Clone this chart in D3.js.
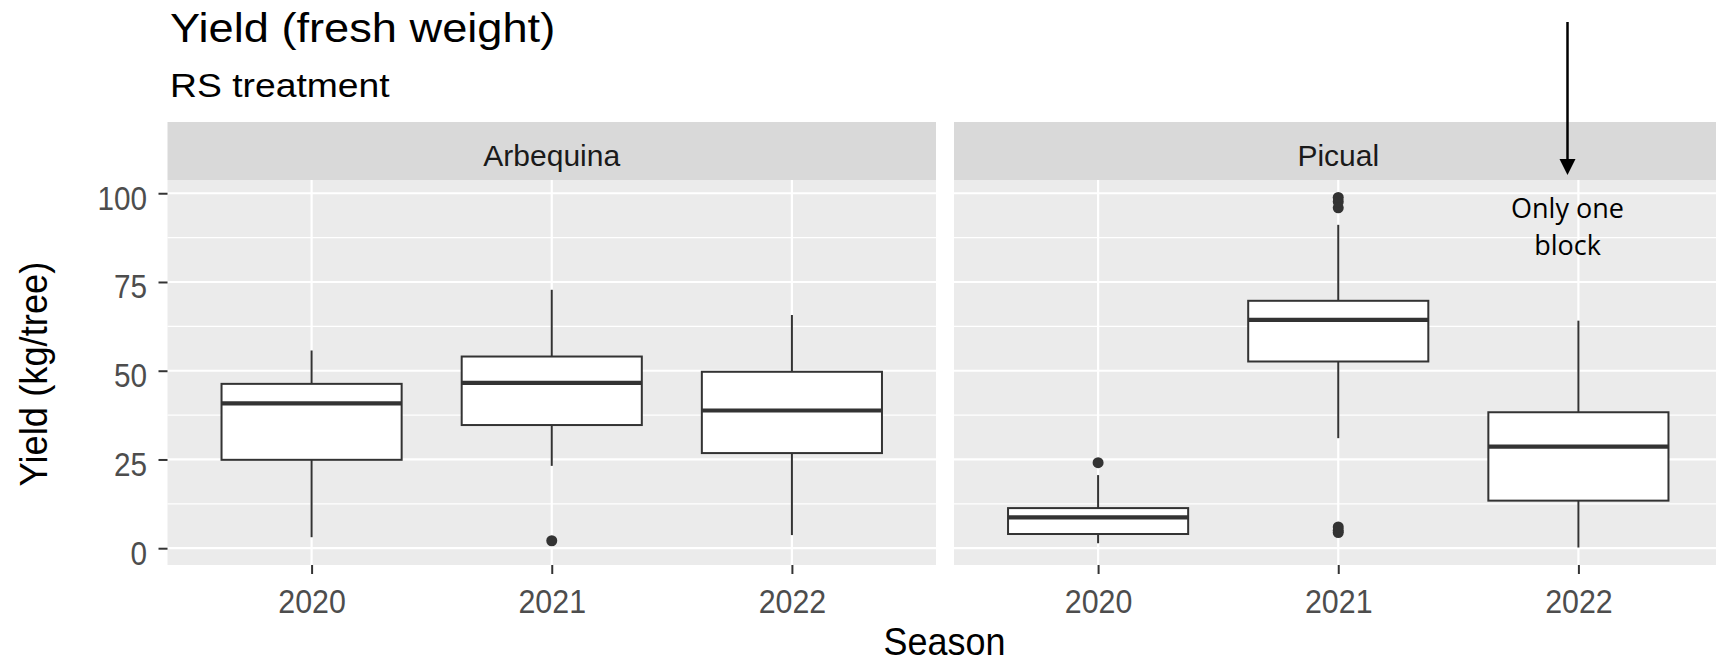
<!DOCTYPE html>
<html>
<head>
<meta charset="utf-8">
<script src="https://cdn.jsdelivr.net/npm/d3@7/dist/d3.min.js"></script>
<style>
  html, body { margin: 0; padding: 0; background: #ffffff; }
  svg { display: block; }
</style>
</head>
<body>
<svg id="chart" width="1716" height="664"></svg>
<script>
// ---- data: boxplot summaries of yield (kg/tree), one row per variety ----
const varieties = ["Arbequina", "Picual"];
const seasons = ["2020", "2021", "2022"];
const whiskerLow  = [[3.1, 23.2, 3.7], [1.4, 31.0, 0.2]];
const lowerQuart  = [[24.9, 34.7, 26.8], [4.0, 52.6, 13.4]];
const medians     = [[40.8, 46.6, 38.8], [8.7, 64.3, 28.6]];
const upperQuart  = [[46.3, 54.0, 49.7], [11.3, 69.7, 38.3]];
const whiskerHigh = [[55.7, 72.8, 65.7], [20.6, 91.1, 64.1]];
const outliers    = [[[], [2.1], []], [[24.1], [4.4, 5.0, 6.0, 95.9, 97.6, 98.8], []]];
const yTicks = [0, 25, 50, 75, 100];
const yMinor = [12.5, 37.5, 62.5, 87.5];

// ---- layout ----
const W = 1716, H = 664;
const panelTop = 180, panelBottom = 565;
const stripTop = 122;
const panelLeft0 = 167.5, panelWidth = 768.5, panelGap = 18;
const font = "'Liberation Sans', Arial, sans-serif";

const svg = d3.select("#chart");
svg.append("rect").attr("width", W).attr("height", H).attr("fill", "#ffffff");

// stretch or squeeze a text element horizontally by a factor
function fit(sel, k) {
  sel.each(function () {
    const len = this.getComputedTextLength();
    d3.select(this).attr("textLength", len * k).attr("lengthAdjust", "spacingAndGlyphs");
  });
}

// shared y scale with 5% expansion around the data range
const allVals = [].concat(
  whiskerLow.flat(), whiskerHigh.flat(), outliers.flat(2)
);
const [lo, hi] = d3.extent(allVals);
const pad = (hi - lo) * 0.05;
const y = d3.scaleLinear().domain([lo - pad, hi + pad]).range([panelBottom, panelTop]);

varieties.forEach((variety, vi) => {
  const left = panelLeft0 + vi * (panelWidth + panelGap);
  const right = left + panelWidth;
  const x = d3.scalePoint().domain(seasons).range([left, right]).padding(0.6);
  const boxW = x.step() * 0.75;

  const g = svg.append("g");

  // strip
  g.append("rect").attr("x", left).attr("y", stripTop)
    .attr("width", panelWidth).attr("height", panelTop - stripTop).attr("fill", "#D9D9D9");
  g.append("text").attr("x", (left + right) / 2).attr("y", 166)
    .attr("text-anchor", "middle").attr("font-family", font).attr("font-size", 30)
    .attr("fill", "#1A1A1A").text(variety);

  // panel background
  g.append("rect").attr("x", left).attr("y", panelTop)
    .attr("width", panelWidth).attr("height", panelBottom - panelTop).attr("fill", "#EBEBEB");

  // grid
  g.selectAll(".minor").data(yMinor).join("line")
    .attr("x1", left).attr("x2", right)
    .attr("y1", d => y(d)).attr("y2", d => y(d))
    .attr("stroke", "#ffffff").attr("stroke-width", 1.3);
  g.selectAll(".major").data(yTicks).join("line")
    .attr("x1", left).attr("x2", right)
    .attr("y1", d => y(d)).attr("y2", d => y(d))
    .attr("stroke", "#ffffff").attr("stroke-width", 2.2);
  g.selectAll(".vmajor").data(seasons).join("line")
    .attr("x1", d => x(d)).attr("x2", d => x(d))
    .attr("y1", panelTop).attr("y2", panelBottom)
    .attr("stroke", "#ffffff").attr("stroke-width", 2.2);

  // boxes
  seasons.forEach((s, si) => {
    const cx = x(s);
    const bg = g.append("g");
    bg.append("line").attr("x1", cx).attr("x2", cx)
      .attr("y1", y(upperQuart[vi][si])).attr("y2", y(whiskerHigh[vi][si]))
      .attr("stroke", "#333333").attr("stroke-width", 2);
    bg.append("line").attr("x1", cx).attr("x2", cx)
      .attr("y1", y(lowerQuart[vi][si])).attr("y2", y(whiskerLow[vi][si]))
      .attr("stroke", "#333333").attr("stroke-width", 2);
    bg.append("rect").attr("x", cx - boxW / 2).attr("y", y(upperQuart[vi][si]))
      .attr("width", boxW).attr("height", y(lowerQuart[vi][si]) - y(upperQuart[vi][si]))
      .attr("fill", "#ffffff").attr("stroke", "#333333").attr("stroke-width", 2);
    bg.append("line").attr("x1", cx - boxW / 2).attr("x2", cx + boxW / 2)
      .attr("y1", y(medians[vi][si])).attr("y2", y(medians[vi][si]))
      .attr("stroke", "#333333").attr("stroke-width", 4.2);
    bg.selectAll("circle").data(outliers[vi][si]).join("circle")
      .attr("cx", cx).attr("cy", d => y(d)).attr("r", 5.5).attr("fill", "#333333");
  });

  // x axis
  const xa = svg.append("g").attr("transform", `translate(0,${panelBottom})`)
    .call(d3.axisBottom(x).tickSize(9).tickPadding(15.5));
  xa.select(".domain").remove();
  xa.selectAll(".tick line").attr("stroke", "#333333").attr("stroke-width", 2);
  xa.selectAll(".tick text").attr("font-family", font).attr("font-size", 33)
    .attr("fill", "#4D4D4D").attr("dy", "0.71em").call(fit, 0.92);

  // y axis only on the first panel
  if (vi === 0) {
    const ya = svg.append("g").attr("transform", `translate(${left},0)`)
      .call(d3.axisLeft(y).tickValues(yTicks).tickSize(9).tickPadding(11.5));
    ya.select(".domain").remove();
    ya.selectAll(".tick line").attr("stroke", "#333333").attr("stroke-width", 2);
    ya.selectAll(".tick text").attr("font-family", font).attr("font-size", 33)
      .attr("fill", "#4D4D4D").attr("dy", "0.48em").call(fit, 0.9);
  }
});

// titles
svg.append("text").attr("x", 170).attr("y", 41.7)
  .attr("font-family", font).attr("font-size", 40).attr("fill", "#000000")
  .text("Yield (fresh weight)").call(fit, 1.13);
svg.append("text").attr("x", 170).attr("y", 96.7)
  .attr("font-family", font).attr("font-size", 33).attr("fill", "#000000")
  .text("RS treatment").call(fit, 1.13);

// axis titles
svg.append("text").attr("x", 944.5).attr("y", 655)
  .attr("text-anchor", "middle").attr("font-family", font).attr("font-size", 39.5)
  .attr("fill", "#000000").text("Season").call(fit, 0.91);
svg.append("text").attr("transform", "translate(47,374) rotate(-90)")
  .attr("text-anchor", "middle").attr("font-family", font).attr("font-size", 39.5)
  .attr("fill", "#000000").text("Yield (kg/tree)").call(fit, 0.92);

// note pointing at the Picual 2022 box
const noteX = 1567.5;
svg.append("line").attr("x1", noteX).attr("x2", noteX).attr("y1", 22).attr("y2", 162)
  .attr("stroke", "#000000").attr("stroke-width", 2.5);
svg.append("path")
  .attr("d", `M${noteX - 8},159 L${noteX + 8},159 L${noteX},175 Z`)
  .attr("fill", "#000000");
const note = svg.append("text").attr("text-anchor", "middle")
  .attr("font-family", "'Open Sans', 'Noto Sans', sans-serif").attr("font-size", 27)
  .attr("fill", "#000000");
note.append("tspan").attr("x", noteX).attr("y", 218).text("Only one");
note.append("tspan").attr("x", noteX).attr("y", 255).text("block");
</script>
</body>
</html>
